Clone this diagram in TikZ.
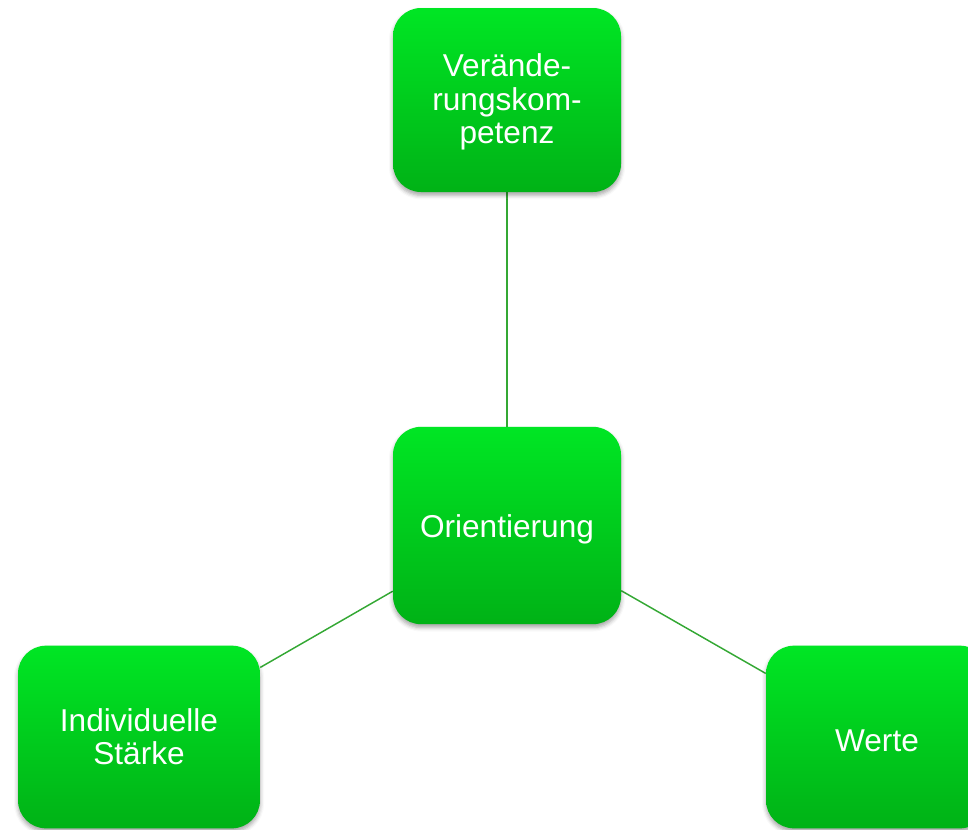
\documentclass[tikz,border=0pt]{standalone}
\usepackage{fontspec}
\setmainfont{Liberation Sans}
\usetikzlibrary{backgrounds,shadows.blur}
\definecolor{gtop}{RGB}{0,230,36}
\definecolor{gbot}{RGB}{0,178,22}
\definecolor{linkc}{RGB}{52,168,52}
\newcommand{\lowertext}[1]{\raisebox{-2.6pt}[\height][\depth]{#1}}
\tikzset{
  box/.style={rectangle, rounded corners=21pt, top color=gtop, bottom color=gbot, draw=none,
    text=white, align=center, inner sep=0pt,
    font=\fontsize{23.7pt}{25pt}\selectfont,
    blur shadow={shadow xshift=0pt, shadow yshift=-2.5pt, shadow blur radius=3pt, shadow opacity=35}},
  link/.style={draw=linkc, line width=1.1pt}
}
\begin{document}
\begin{tikzpicture}[x=0.75pt,y=-0.75pt]
\useasboundingbox (0,0) rectangle (968,829);
\clip (0,0) rectangle (968,829);
\node[box, minimum width=171pt, minimum height=138pt] (top) at (507,100) {\lowertext{\begin{tabular}{@{}c@{}}Verände-\\rungskom-\\petenz\end{tabular}}};
\node[box, minimum width=171pt, minimum height=148pt] (mid) at (507,525.5) {\lowertext{Orientierung}};
\node[box, minimum width=181.5pt, minimum height=137pt] (left) at (139,737) {Individuelle\\Stärke};
\node[box, minimum width=166.5pt, minimum height=137pt] (right) at (877,737) {\lowertext{Werte}};
\begin{pgfonlayer}{background}
\draw[link] (top) -- (mid);
\draw[link] (mid) -- (left);
\draw[link] (mid) -- (right);
\end{pgfonlayer}
\end{tikzpicture}
\end{document}
